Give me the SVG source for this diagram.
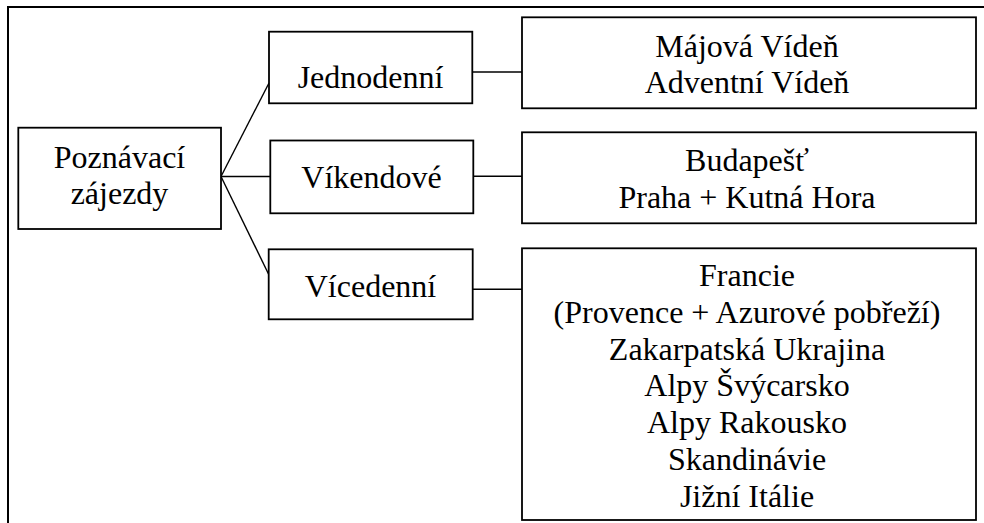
<svg xmlns="http://www.w3.org/2000/svg" width="984" height="523" viewBox="0 0 984 523">
<style>
.box{fill:#fff;stroke:#000;stroke-width:1.8}
.frame{fill:none;stroke:#000;stroke-width:2}
.con{fill:none;stroke:#000;stroke-width:1.4}
.t{font-size:32px;fill:#000;text-anchor:middle}
</style>
<rect width="984" height="523" fill="#fff"/>
<path class="frame" d="M8,523 V7 H984"/>
<g id="connectors">
<path class="con" d="M221,176.5 L269,83"/>
<path class="con" d="M221,176.5 L270,176.5"/>
<path class="con" d="M221,176.5 L269,275"/>
<path class="con" d="M472,72 H522"/>
<path class="con" d="M473,176.3 H522"/>
<path class="con" d="M473,289.3 H522"/>
</g>
<g id="root">
<rect class="box" x="18.3" y="127.7" width="202.7" height="101.3"/>
<text class="t" x="119.5" y="168.3" font-family="Times New Roman, Liberation Serif, serif">Poznávací</text>
<text class="t" x="119.5" y="203.5" font-family="Times New Roman, Liberation Serif, serif">zájezdy</text>
</g>
<g id="jednodenni">
<rect class="box" x="269" y="31.7" width="203.3" height="71.6"/>
<text class="t" x="370.5" y="88.3" font-family="Times New Roman, Liberation Serif, serif">Jednodenní</text>
</g>
<g id="vikendove">
<rect class="box" x="270.3" y="140.5" width="203" height="72.8"/>
<text class="t" x="371.5" y="188.3" font-family="Times New Roman, Liberation Serif, serif">Víkendové</text>
</g>
<g id="vicedenni">
<rect class="box" x="268.7" y="249.3" width="204" height="70"/>
<text class="t" x="370.5" y="296.7" font-family="Times New Roman, Liberation Serif, serif">Vícedenní</text>
</g>
<g id="jednodenni-list">
<rect class="box" x="522" y="17.3" width="454" height="91"/>
<text class="t" x="747" y="56.7" font-family="Times New Roman, Liberation Serif, serif">Májová Vídeň</text>
<text class="t" x="747" y="93.3" font-family="Times New Roman, Liberation Serif, serif">Adventní Vídeň</text>
</g>
<g id="vikendove-list">
<rect class="box" x="522" y="132.3" width="454" height="91"/>
<text class="t" x="747" y="170.7" font-family="Times New Roman, Liberation Serif, serif">Budapešť</text>
<text class="t" x="747" y="208.3" font-family="Times New Roman, Liberation Serif, serif">Praha + Kutná Hora</text>
</g>
<g id="vicedenni-list">
<rect class="box" x="522" y="248.3" width="454" height="271.7"/>
<text class="t" x="747" y="286" font-family="Times New Roman, Liberation Serif, serif">Francie</text>
<text class="t" x="747" y="322.8" font-family="Times New Roman, Liberation Serif, serif">(Provence + Azurové pobřeží)</text>
<text class="t" x="747" y="359.6" font-family="Times New Roman, Liberation Serif, serif">Zakarpatská Ukrajina</text>
<text class="t" x="747" y="396.4" font-family="Times New Roman, Liberation Serif, serif">Alpy Švýcarsko</text>
<text class="t" x="747" y="433.2" font-family="Times New Roman, Liberation Serif, serif">Alpy Rakousko</text>
<text class="t" x="747" y="470" font-family="Times New Roman, Liberation Serif, serif">Skandinávie</text>
<text class="t" x="747" y="506.8" font-family="Times New Roman, Liberation Serif, serif">Jižní Itálie</text>
</g>
</svg>
